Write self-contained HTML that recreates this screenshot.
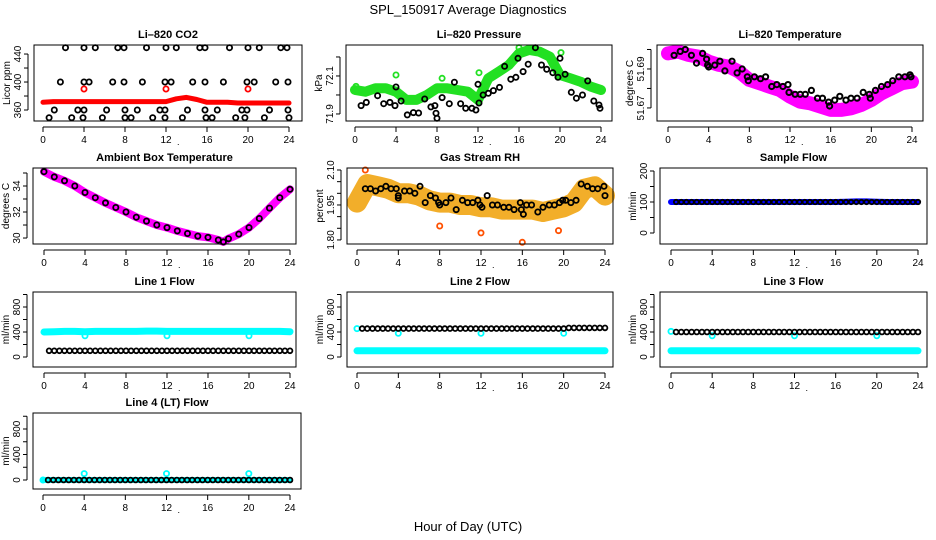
<!DOCTYPE html>
<html>
<head>
<meta charset="utf-8">
<style>
html,body{margin:0;padding:0;background:#fff;}
svg{display:block;font-family:"Liberation Sans",sans-serif;}
.t{font-size:11px;font-weight:bold;text-anchor:middle;}
.tk{font-size:10px;text-anchor:middle;}
</style>
</head>
<body>
<svg id="chart" width="936" height="540" viewBox="0 0 936 540">
<text x="468" y="14" font-size="13" text-anchor="middle">SPL_150917  Average Diagnostics</text>
<text x="468" y="531" font-size="13" text-anchor="middle">Hour of Day (UTC)</text>
</svg>
<script>
// ---------- shared x data ----------
const hoursHourly=[0,1,2,3,4,5,6,7,8,9,10,11,12,13,14,15,16,17,18,19,20,21,22,23,24];
const hoursHalf=[0.5,1,1.5,2,2.5,3,3.5,4,4.5,5,5.5,6,6.5,7,7.5,8,8.5,9,9.5,10,10.5,11,11.5,12,12.5,13,13.5,14,14.5,15,15.5,16,16.5,17,17.5,18,18.5,19,19.5,20,20.5,21,21.5,22,22.5,23,23.5,24];
const xTickLabels=[0,4,8,12,16,20,24];

// ---------- CO2 ----------
const co2Band=[371,372,372,372,372,372,372,372,372,372,372,372,372,376,378,375,371,371,371,370,370,370,370,370,370];
const co2RedHours=[4,12,20];
const co2RedVals=[390,390,390];
const co2BlackHours=[2.2,4,5.1,7.3,7.9,10.1,12,13,15.3,15.8,18.2,20,21.1,23.2,23.8,1.7,4,4.5,6.8,7.9,9.7,11.9,12.5,14.6,15.8,17.6,19.9,20.6,22.7,23.9,1.1,3.4,4,6.2,8,9.2,11.4,11.9,14.1,15.8,17,19.4,19.9,22.1,23.9,0.6,2.8,3.9,5.8,8,8.6,10.7,11.9,13.6,15.9,16.5,18.8,19.7,21.6,24];
const co2BlackVals=[449,449,449,449,449,449,449,449,449,449,449,449,449,449,449,400,400,400,400,400,400,400,400,400,400,400,400,400,400,400,360,360,360,360,360,360,360,360,360,360,360,360,360,360,360,349,349,349,349,349,349,349,349,349,349,349,349,349,349,349];

// ---------- Pressure ----------
const presBand=[72.026,72.017,72.035,72.035,72.017,71.974,71.974,72.0,72.035,72.035,72.026,72.017,71.974,72.088,72.122,72.158,72.219,72.237,72.228,72.202,72.105,72.088,72.07,72.044,72.026];
const presGreenHours=[0.1,4,8.5,12.1,16,20.1];
const presGreenVals=[72.045,72.105,72.088,72.117,72.249,72.223];
const presBlackHours=[0.6,1.1,2.2,2.8,3.4,3.9,4,4.5,5.1,5.7,6.2,6.8,7.4,7.8,7.9,8,8.5,9.2,9.7,10.3,10.8,11.4,11.8,12,12.1,12.5,13,13.5,14.1,14.6,15.2,15.7,15.9,16.4,16.9,17.6,18.2,18.7,19.3,19.8,20,20.5,21.1,21.6,22.2,22.7,23.3,23.8,23.9];
const presBlackVals=[71.944,71.961,71.996,71.954,71.961,71.944,72.042,71.968,71.895,71.907,71.905,71.979,71.937,71.944,71.904,71.877,71.986,71.954,72.067,71.954,71.930,71.930,71.921,72.056,71.958,72.0,72.009,72.023,72.040,72.151,72.083,72.093,72.193,72.123,72.162,72.249,72.158,72.135,72.117,72.093,72.193,72.109,72.014,71.983,72.0,72.074,71.968,71.947,71.930];

// ---------- Li-820 Temperature ----------
const tempBand=[51.698,51.6989,51.6972,51.6963,51.6938,51.6921,51.6912,51.6886,51.6844,51.6827,51.6809,51.6792,51.6758,51.6732,51.6724,51.6707,51.669,51.669,51.6698,51.6715,51.6741,51.6775,51.6801,51.6827,51.6835];
const tempBlackHours=[0.6,1.2,1.7,2.3,2.8,3.4,3.8,3.9,4.0,4.6,5.1,5.6,6.3,6.8,7.3,7.8,7.9,8.5,9.1,9.6,10.2,10.7,11.3,11.8,11.9,12.5,13,13.5,14.1,14.7,15.2,15.8,15.9,16.4,16.9,17.5,18,18.6,19.2,19.8,19.9,20.4,21,21.6,22.1,22.7,23.3,23.8,23.9];
const tempBlackVals=[51.697,51.699,51.700,51.697,51.693,51.698,51.695,51.692,51.691,51.692,51.694,51.689,51.694,51.688,51.690,51.686,51.684,51.686,51.685,51.686,51.681,51.682,51.681,51.682,51.678,51.677,51.677,51.677,51.679,51.675,51.675,51.673,51.671,51.674,51.676,51.674,51.675,51.675,51.678,51.677,51.675,51.679,51.681,51.682,51.684,51.686,51.686,51.687,51.686];

// ---------- Ambient box temperature ----------
const ambHours=[0,1,2,3,4,5,6,7,8,9,10,11,12,13,14,15,16,17,17.5,18,19,20,21,22,23,24];
const ambVals=[35.1,34.7,34.4,34.0,33.5,33.1,32.7,32.35,32.0,31.6,31.3,31.0,30.8,30.55,30.35,30.15,30.05,29.85,29.7,29.95,30.3,30.8,31.5,32.3,33.1,33.75];

// ---------- Gas stream RH ----------
const rhBand=[1.96,2.04,2.03,2.02,2.0,2.0,1.99,1.97,1.96,1.96,1.95,1.95,1.94,1.94,1.93,1.93,1.93,1.93,1.92,1.93,1.94,1.96,2.02,2.03,1.99];
const rhRedHours=[0.8,8,12,16,19.5];
const rhRedVals=[2.10,1.86,1.83,1.79,1.84];
const rhBlackHours=[0.8,1.3,1.8,2.3,2.8,3.3,3.8,4,4,4.6,5.1,5.6,6.1,6.6,7.1,7.6,7.9,8,8.6,9.1,9.6,10.2,10.7,11.2,11.7,11.9,12.1,12.6,13.1,13.6,14.2,14.7,15.2,15.8,15.9,16.1,16.4,16.9,17.5,18,18.6,19.1,19.6,19.9,20.2,20.7,21.2,21.7,22.3,22.8,23.3,23.9,24];
const rhBlackVals=[2.02,2.02,2.01,2.02,2.03,2.02,2.02,1.99,1.98,2.01,2.01,2.0,2.03,1.96,1.99,1.98,1.96,1.95,1.96,1.98,1.93,1.97,1.96,1.96,1.97,1.95,1.94,1.99,1.95,1.95,1.94,1.94,1.93,1.96,1.93,1.91,1.95,1.95,1.92,1.94,1.95,1.95,1.96,1.97,1.97,1.96,1.97,2.04,2.03,2.02,2.02,2.03,1.99];

// ---------- Sample flow ----------
const sampleBand=[100,100,100,100,100,100,100,100,100,100,100,100,100,100,100,100,100,101,102,102,101,100,100,100,100];
const sampleBlack=[100,100,100,100,100,100,100,100,100,100,100,100,100,100,100,100,100,100,100,100,100,100,100,100,100,100,100,100,100,100,100,100,100,100,100,100,100,100,100,100,100,100,100,100,100,100,100,100];

// ---------- Line flows ----------
const line1Cyan=[400,405,410,410,405,410,410,410,410,410,415,415,410,410,410,410,410,410,410,410,410,410,410,410,405];
const line1Black=[100,100,100,100,100,100,100,100,100,100,100,100,100,100,100,100,100,100,100,100,100,100,100,100,100,100,100,100,100,100,100,100,100,100,100,100,100,100,100,100,100,100,100,100,100,100,100,100];
const line1DipHours=[4,12,20];
const line1DipVals=[340,340,340];

const line2Cyan=[100,100,100,100,100,100,100,100,100,100,100,100,100,100,100,100,100,100,100,100,100,100,100,100,100];
const line2Black=[455,455,455,455,455,455,455,455,455,455,455,455,455,455,455,455,455,455,455,455,455,455,455,455,455,455,455,455,455,455,455,455,455,455,455,455,455,455,455,455,465,465,465,465,465,465,465,465];
const line2DipHours=[0,4,12,20];
const line2DipVals=[455,380,380,380];

const line3Cyan=[100,100,100,100,100,100,100,100,100,100,100,100,100,100,100,100,100,100,100,100,100,100,100,100,100];
const line3Black=[400,400,400,400,400,400,400,400,400,400,400,400,400,400,400,400,400,400,400,400,400,400,400,400,400,400,400,400,400,400,400,400,400,400,400,400,400,400,400,400,400,400,400,400,400,400,400,400];
const line3DipHours=[0,4,12,20];
const line3DipVals=[410,340,340,340];

const line4Cyan=[0,0,0,0,0,0,0,0,0,0,0,0,0,0,0,0,0,0,0,0,0,0,0,0,0];
const line4Black=[0,0,0,0,0,0,0,0,0,0,0,0,0,0,0,0,0,0,0,0,0,0,0,0,0,0,0,0,0,0,0,0,0,0,0,0,0,0,0,0,0,0,0,0,0,0,0,0];
const line4OutHours=[0,4,12,20];
const line4OutVals=[0,100,100,100];

const NS="http://www.w3.org/2000/svg";
const svg=document.getElementById('chart');
function mk(tag,attrs,parent){const e=document.createElementNS(NS,tag);for(const k in attrs)e.setAttribute(k,attrs[k]);parent.appendChild(e);return e;}

function panel(c){
  const g=mk('g',{},svg);
  
  
  const [L,T,R,B]=c.box;
  const xs=h=>c.x0+h*(c.x24-c.x0)/24;
  const ys=v=>T+(c.ylim[0]-v)*(B-T)/(c.ylim[0]-c.ylim[1]);
  const pg=mk('g',{},g);
  
  
  (c.series||[]).forEach(s=>{
    if(s.type==='band'){
      const pts=s.h.map((h,i)=>xs(h).toFixed(1)+','+ys(s.v[i]).toFixed(1)).join(' ');
      const p=mk('polyline',{points:pts,fill:'none',stroke:s.color,'stroke-width':s.w,'stroke-linejoin':'round','stroke-linecap':'round'},pg);
      
      
    } else {
      s.h.forEach((h,i)=>{
        const ci=mk('circle',{cx:xs(h).toFixed(1),cy:ys(s.v[i]).toFixed(1),r:s.r||2.6,fill:'none',stroke:s.color,'stroke-width':s.sw||1.8},pg);
        
        
      });
    }
  });
  const bx=mk('rect',{x:L,y:T,width:R-L,height:B-T,fill:'none',stroke:'#000','stroke-width':1},g);
  
  
  const tt=mk('text',{x:(L+R)/2,y:T-7,class:'t'},g);
  tt.textContent=c.title;
  
  
  const xa=mk('g',{},g);
  
  
  mk('line',{x1:xs(0),x2:xs(24),y1:B+6,y2:B+6,stroke:'#000'},xa);
  xTickLabels.forEach(t=>{
    mk('line',{x1:xs(t),x2:xs(t),y1:B+6,y2:B+11,stroke:'#000'},xa);
    const tx=mk('text',{x:xs(t),y:B+22,class:'tk'},xa);
    tx.textContent=t;
    
    
  });
  const dot=mk('text',{x:xs(12)+11,y:B+24,'font-size':9},xa);
  dot.textContent='.';
  const ya=mk('g',{},g);
  
  
  const yt=c.yticks;
  mk('line',{x1:L-6,x2:L-6,y1:ys(yt[0]),y2:ys(yt[yt.length-1]),stroke:'#000'},ya);
  yt.forEach(t=>{mk('line',{x1:L-6,x2:L-10,y1:ys(t),y2:ys(t),stroke:'#000'},ya);});
  c.ylabels.forEach(t=>{
    const y=ys(parseFloat(t));
    const tx=mk('text',{x:0,y:0,class:'tk',transform:`translate(${L-13},${y}) rotate(-90)`},ya);
    tx.textContent=t;
    
    
  });
  const yl=mk('text',{x:0,y:0,'font-size':10,'text-anchor':'middle',transform:`translate(${L-24},${(T+B)/2}) rotate(-90)`},ya);
  yl.textContent=c.ylab;
  
  
}

panel({name:'co2-panel',title:'Li\u2013820 CO2',box:[34,45,302,121],x0:43,x24:289,ylim:[452.9,344.3],yticks:[360,380,400,420,440],ylabels:['360','400','440'],ylab:'Licor ppm',
 series:[{type:'band',name:'co2-band',h:hoursHourly,v:co2Band,color:'#ff0000',w:5},
  {type:'pts',name:'co2-red-point',h:co2RedHours,v:co2RedVals,color:'#ff0000'},
  {type:'pts',name:'co2-black-point',h:co2BlackHours,v:co2BlackVals,color:'#000'}]});
panel({name:'pressure-panel',title:'Li\u2013820 Pressure',box:[346,45,612,121],x0:355,x24:601,ylim:[72.263,71.863],yticks:[71.9,72.0,72.1,72.2],ylabels:['71.9','72.1'],ylab:'kPa',
 series:[{type:'band',name:'pressure-band',h:hoursHourly,v:presBand,color:'#22e022',w:10},
  {type:'pts',name:'pressure-green-point',h:presGreenHours,v:presGreenVals,color:'#22e022'},
  {type:'pts',name:'pressure-black-point',h:presBlackHours,v:presBlackVals,color:'#000'}]});
panel({name:'temperature-panel',title:'Li\u2013820 Temperature',box:[657,45,923,121],x0:668,x24:912,ylim:[51.7023,51.6633],yticks:[51.67,51.68,51.69,51.70],ylabels:['51.67','51.69'],ylab:'degrees C',
 series:[{type:'band',name:'temperature-band',h:hoursHourly,v:tempBand,color:'#ff00ff',w:14},
  {type:'pts',name:'temperature-black-point',h:tempBlackHours,v:tempBlackVals,color:'#000',sw:2}]});
panel({name:'ambient-panel',title:'Ambient Box Temperature',box:[33,168,296,244],x0:44,x24:290,ylim:[35.385,29.54],yticks:[30,31,32,33,34,35],ylabels:['30','32','34'],ylab:'degrees C',
 series:[{type:'band',name:'ambient-band',h:ambHours,v:ambVals,color:'#ff00ff',w:8},
  {type:'pts',name:'ambient-black-point',h:ambHours,v:ambVals,color:'#000'}]});
panel({name:'rh-panel',title:'Gas Stream RH',box:[347,168,613,244],x0:357,x24:605,ylim:[2.1086,1.7826],yticks:[1.80,1.85,1.90,1.95,2.00,2.05,2.10],ylabels:['1.80','1.95','2.10'],ylab:'percent',
 series:[{type:'band',name:'rh-band',h:hoursHourly,v:rhBand,color:'#f2ae2a',w:20},
  {type:'pts',name:'rh-red-point',h:rhRedHours,v:rhRedVals,color:'#ff5000'},
  {type:'pts',name:'rh-black-point',h:rhBlackHours,v:rhBlackVals,color:'#000'}]});
panel({name:'sample-flow-panel',title:'Sample Flow',box:[660,168,927,244],x0:671,x24:918,ylim:[209.7,-35.5],yticks:[0,50,100,150,200],ylabels:['0','100','200'],ylab:'ml/min',
 series:[{type:'band',name:'sample-flow-band',h:hoursHourly,v:sampleBand,color:'#0000ff',w:6},
  {type:'pts',name:'sample-flow-black-point',h:hoursHalf,v:sampleBlack,color:'#000',r:2.2}]});
panel({name:'line1-panel',title:'Line 1 Flow',box:[33,292,296,367],x0:44,x24:290,ylim:[1040,-160],yticks:[0,200,400,600,800,1000],ylabels:['0','400','800'],ylab:'ml/min',
 series:[{type:'band',name:'line1-cyan-band',h:hoursHourly,v:line1Cyan,color:'#00ffff',w:7},
  {type:'pts',name:'line1-cyan-point',h:line1DipHours,v:line1DipVals,color:'#00ffff'},
  {type:'pts',name:'line1-black-point',h:hoursHalf,v:line1Black,color:'#000',r:2.4}]});
panel({name:'line2-panel',title:'Line 2 Flow',box:[347,292,613,367],x0:357,x24:605,ylim:[1040,-160],yticks:[0,200,400,600,800,1000],ylabels:['0','400','800'],ylab:'ml/min',
 series:[{type:'band',name:'line2-cyan-band',h:hoursHourly,v:line2Cyan,color:'#00ffff',w:7},
  {type:'pts',name:'line2-cyan-point',h:line2DipHours,v:line2DipVals,color:'#00ffff'},
  {type:'pts',name:'line2-black-point',h:hoursHalf,v:line2Black,color:'#000',r:2.4}]});
panel({name:'line3-panel',title:'Line 3 Flow',box:[660,292,927,367],x0:671,x24:918,ylim:[1040,-160],yticks:[0,200,400,600,800,1000],ylabels:['0','400','800'],ylab:'ml/min',
 series:[{type:'band',name:'line3-cyan-band',h:hoursHourly,v:line3Cyan,color:'#00ffff',w:7},
  {type:'pts',name:'line3-cyan-point',h:line3DipHours,v:line3DipVals,color:'#00ffff'},
  {type:'pts',name:'line3-black-point',h:hoursHalf,v:line3Black,color:'#000',r:2.4}]});
panel({name:'line4-panel',title:'Line 4 (LT) Flow',box:[33,413,301,489],x0:43,x24:290,ylim:[1051,-141],yticks:[0,200,400,600,800,1000],ylabels:['0','400','800'],ylab:'ml/min',
 series:[{type:'band',name:'line4-cyan-band',h:hoursHourly,v:line4Cyan,color:'#00ffff',w:6},
  {type:'pts',name:'line4-cyan-point',h:line4OutHours,v:line4OutVals,color:'#00ffff'},
  {type:'pts',name:'line4-black-point',h:hoursHalf,v:line4Black,color:'#000',r:2.4}]});
</script>
</body>
</html>
